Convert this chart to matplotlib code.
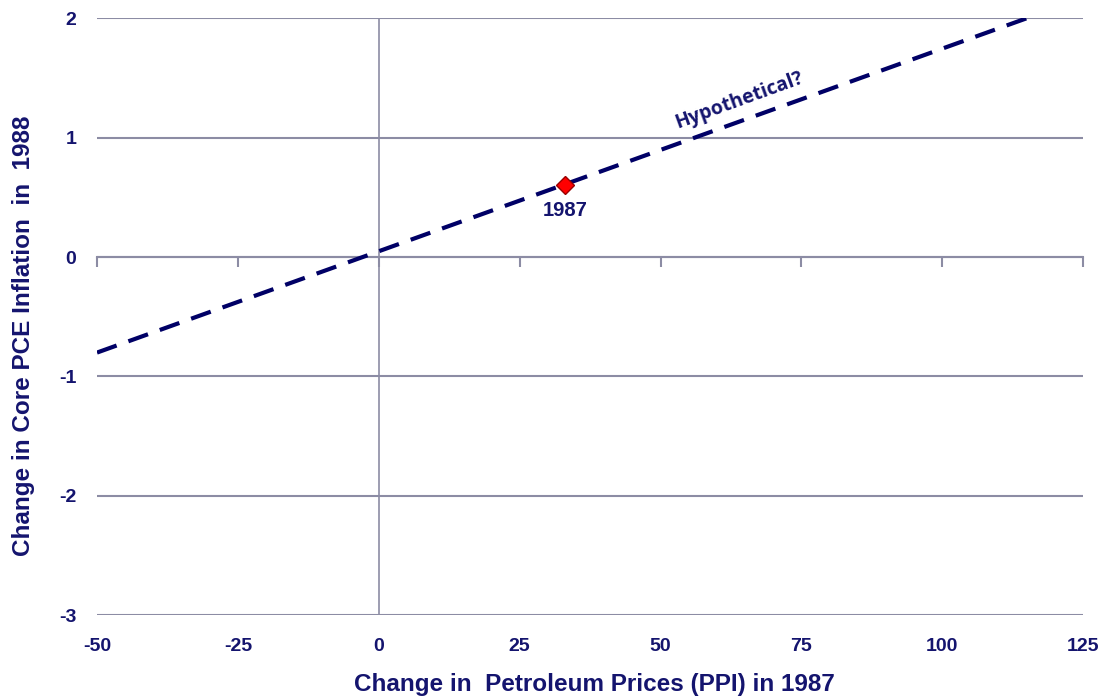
import matplotlib
matplotlib.use("Agg")
import matplotlib.pyplot as plt

# Data
line_x = [-50, 115]
line_y = [-0.8, 2.0]
point_x = [33]
point_y = [0.6]
point_label = "1987"
line_label = "Hypothetical?"
x_ticks = [-50, -25, 0, 25, 50, 75, 100, 125]
y_ticks = [-3, -2, -1, 0, 1, 2]
x_title = "Change in  Petroleum Prices (PPI) in 1987"
y_title = "Change in Core PCE Inflation  in  1988"

navy = "#14146E"
grid_c = "#8C8CA4"

plt.rcParams['font.family'] = ['Liberation Sans', 'DejaVu Sans']
plt.rcParams['axes.unicode_minus'] = False

fig = plt.figure(figsize=(11.05, 7.0), dpi=100)
ax = fig.add_axes([0.0878, 0.121, 0.8925, 0.853])
ax.set_xlim(-50, 125)
ax.set_ylim(-3, 2)

for s in ['top', 'right', 'left']:
    ax.spines[s].set_visible(False)
ax.spines['bottom'].set_position(('data', 0))
ax.spines['bottom'].set_color(grid_c)
ax.spines['bottom'].set_linewidth(1.5)
ax.spines['bottom'].set_zorder(1)

ax.set_xticks(x_ticks)
ax.set_yticks(y_ticks)
ax.tick_params(axis='x', direction='out', length=7, width=1.5, color=grid_c,
               labelbottom=False)
ax.tick_params(axis='y', length=0, pad=15, labelsize=14, labelcolor=navy)
for t in ax.get_yticklabels():
    t.set_fontweight('bold')
ax.yaxis.grid(True, color=grid_c, linewidth=1.5, zorder=0)
ax.set_axisbelow(True)
ax.axvline(0, color=grid_c, linewidth=1.2, zorder=1)

sec = ax.secondary_xaxis('bottom')
sec.spines['bottom'].set_visible(False)
sec.set_xticks(x_ticks)
sec.tick_params(length=0, pad=16, labelsize=14, labelcolor=navy)
for t in sec.get_xticklabels():
    t.set_fontweight('bold')

ax.plot(line_x, line_y, linestyle=(0, (5, 3)), color='#000066', linewidth=3,
        zorder=3)
ax.plot(point_x, point_y, marker='D', markersize=9, color='#FF0000',
        markeredgecolor='#990000', markeredgewidth=1, linestyle='none',
        zorder=4)
ax.annotate(point_label, (point_x[0], point_y[0]), xytext=(0, -11),
            textcoords='offset points', ha='center', va='top', fontsize=14.5,
            fontweight='bold', color=navy)
ax.text(64.0, 1.31, line_label, rotation=20, ha='center', va='center',
        fontsize=14, fontweight='bold', color=navy,
        family=['Open Sans', 'DejaVu Sans'])

fig.text(0.538, 0.005, x_title, ha='center', va='bottom', fontsize=17.5,
         fontweight='bold', color=navy)
fig.text(0.021, 0.52, y_title, ha='center', va='center', rotation=90,
         fontsize=17.5, fontweight='bold', color=navy)

fig.savefig("out.png", dpi=100)
